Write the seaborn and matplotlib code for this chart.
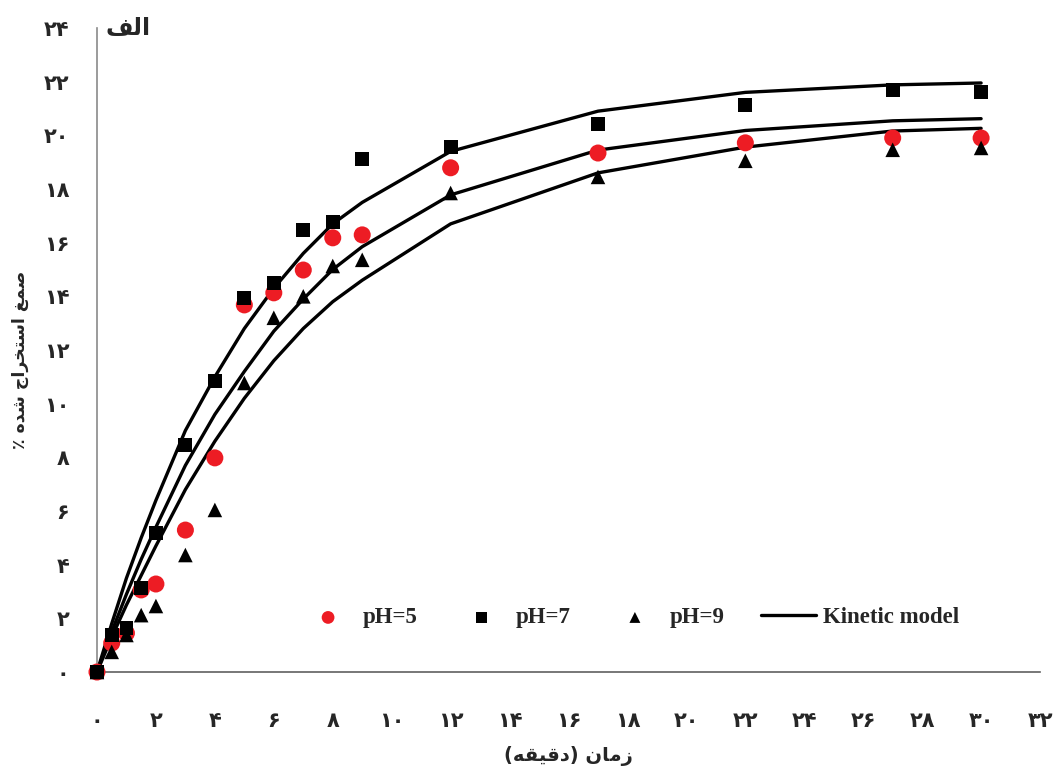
import pandas as pd
import seaborn as sns
import matplotlib.pyplot as plt

# sampling times (min) and extracted gum (%)
time_min = [0, 0.5, 1, 1.5, 2, 3, 4, 5, 6, 7, 8, 9, 12, 17, 22, 27, 30]
ph5 = [0, 1.08, 1.45, 3.06, 3.28, 5.29, 7.98, 13.68, 14.13, 14.98, 16.18, 16.29, 18.79, 19.34, 19.72, 19.9, 19.9]
ph7 = [0, 1.38, 1.64, 3.13, 5.18, 8.46, 10.85, 13.94, 14.5, 16.47, 16.77, 19.12, 19.57, 20.42, 21.13, 21.69, 21.62]
ph9 = [0, 0.75, 1.38, 2.12, 2.46, 4.36, 6.04, 10.77, 13.2, 14.0, 15.13, 15.36, 17.85, 18.45, 19.05, 19.46, 19.53]

# kinetic model curves
model7 = [0, 1.8, 3.5, 5.0, 6.4, 9.0, 11.0, 12.8, 14.3, 15.6, 16.7, 17.5, 19.4, 20.9, 21.6, 21.88, 21.95]
model5 = [0, 1.5, 2.9, 4.2, 5.4, 7.7, 9.6, 11.2, 12.7, 13.9, 15.0, 15.85, 17.78, 19.45, 20.18, 20.54, 20.62]
model9 = [0, 1.3, 2.5, 3.6, 4.7, 6.8, 8.6, 10.2, 11.6, 12.8, 13.8, 14.6, 16.7, 18.6, 19.56, 20.16, 20.26]

x_ticks = list(range(0, 34, 2))
y_ticks = list(range(0, 26, 2))

# Persian text in visual (shaped, left-to-right) order
title_txt = "\uFED2\uFEDF\uFE8D"                      # الف
xlabel_txt = "(\uFEEA\uFED8\uFEF4\uFED7\uFEA9) \uFEE5\uFE8E\uFEE3\uFEAF"   # زمان (دقیقه)
ylabel_txt = ("\u066A \uFEE9\uFEAA\uFEB7 "
              "\uFE9D\uFE8D\uFEAE\uFEA8\uFE98\uFEB3\uFE8D "
              "\uFECE\uFEE4\uFEBB")                   # صمغ استخراج شده ٪

def fa(n):
    return str(n).translate(str.maketrans('0123456789', '۰۱۲۳۴۵۶۷۸۹'))

sns.set_style('white')
plt.rcParams['font.family'] = ['DejaVu Sans']

fig, ax = plt.subplots(figsize=(10.53, 7.77), dpi=100)
fig.subplots_adjust(left=0.0921, right=0.9877, bottom=0.1351, top=0.964)

for i, m in enumerate([model7, model5, model9]):
    sns.lineplot(x=time_min, y=m, color='black', lw=2.4, ax=ax, clip_on=False,
                 errorbar=None, zorder=2, label='Kinetic model' if i == 0 else None)

sns.scatterplot(x=time_min, y=ph5, color='#ED1C24', marker='o', s=150, edgecolor='none',
                ax=ax, clip_on=False, zorder=3, label='pH=5')
sns.scatterplot(x=time_min, y=ph7, color='black', marker='s', s=100, edgecolor='none',
                ax=ax, clip_on=False, zorder=4, label='pH=7')
sns.scatterplot(x=time_min, y=ph9, color='black', marker='^', s=110, edgecolor='none',
                ax=ax, clip_on=False, zorder=5, label='pH=9')

ax.set_xlim(0, 32)
ax.set_ylim(0, 24)
ax.set_xticks(x_ticks)
ax.set_yticks(y_ticks)
ax.set_xticklabels([fa(t) for t in x_ticks], fontsize=15, fontweight='bold')
ax.set_yticklabels([fa(t) for t in y_ticks], fontsize=15, fontweight='bold')
ax.tick_params(axis='x', direction='out', length=8, width=1, color='#707070', pad=20)
ax.tick_params(axis='y', direction='out', length=8, width=1, color='#808080', pad=12)

for side in ['top', 'right']:
    ax.spines[side].set_visible(False)
ax.spines['left'].set_color('#8a8a8a')
ax.spines['bottom'].set_color('#606060')
ax.spines['left'].set_linewidth(1.2)
ax.spines['bottom'].set_linewidth(1.2)

ax.set_xlabel(xlabel_txt, fontsize=14, fontweight='bold')
ax.set_ylabel(ylabel_txt, fontsize=12.5, fontweight='bold')
ax.xaxis.set_label_coords(0.5, -0.115)
ax.yaxis.set_label_coords(-0.072, 0.485)
ax.text(0.009, 1.0, title_txt, transform=ax.transAxes, ha='left', va='center',
        fontsize=17, fontweight='bold')

handles, labels = ax.get_legend_handles_labels()
lookup = dict(zip(labels, handles))
order = ['pH=5', 'pH=7', 'pH=9', 'Kinetic model']
ax.legend([lookup[k] for k in order], order, loc='center', bbox_to_anchor=(0.565, 0.084),
          ncol=4, frameon=False, markerscale=0.75, handlelength=2.4, handletextpad=0.3,
          columnspacing=1.6, prop={'family': 'Liberation Serif', 'weight': 'bold', 'size': 16.5})

fig.savefig('out.png', dpi=100)
